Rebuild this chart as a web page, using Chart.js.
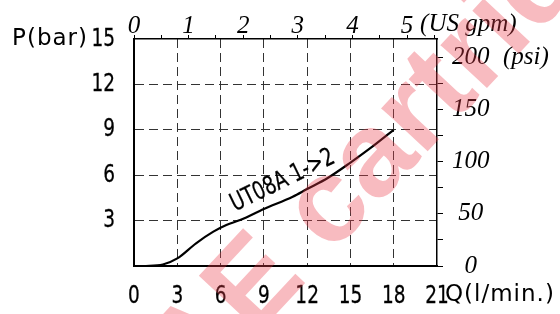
<!DOCTYPE html>
<html>
<head>
<meta charset="utf-8">
<script src="https://cdn.jsdelivr.net/npm/chart.js@4.4.0/dist/chart.umd.min.js"></script>
<style>
html, body { margin: 0; padding: 0; background: #fff; }
</style>
</head>
<body>
<canvas id="myChart" width="560" height="314"></canvas>
<script>
// flow in l/min, pressure drop in bar
var flowLpm = [0.65, 2, 3, 4.3, 5.5, 6.4, 7.4, 9, 11, 12, 13.4, 15, 16.4, 18];
var pressureBar = [0, 0.1, 0.5, 1.5, 2.27, 2.71, 3.05, 3.77, 4.58, 5.09, 5.8, 6.83, 7.8, 9];

var curveLabel = 'UT08A 1->2';
var labelAt = [7.0, 3.6];   // data coords where the label baseline starts

var flowMax = 21, flowStep = 3;
var barMax = 15, barStep = 3;
var LPM_PER_GPM = 3.785411784;
var PSI_PER_BAR = 14.5038;

var gothic = '"DejaVu Sans", sans-serif';
var serif = '"Liberation Serif", "DejaVu Serif", serif';

var ctx = document.getElementById('myChart').getContext('2d');

var pts = flowLpm.map(function(q, i){ return {x: q, y: pressureBar[i]}; });

var innerGrid = function(max){
    return function(c){
        var v = c.tick.value;
        return (v === 0 || v === max) ? 'rgba(0,0,0,0)' : '#333';
    };
};

// squeezed text, the drawing uses a narrow gothic face
var narrowText = function(c, text, x, y){
    c.save();
    c.translate(x, y);
    c.scale(0.74, 1);
    c.fillText(text, 0, 0);
    c.strokeText(text, 0, 0);
    c.restore();
};

var extras = {
    id: 'extras',
    afterDatasetsDraw: function(chart){
        var c = chart.ctx;
        var area = chart.chartArea;
        var xs = chart.scales.x, ys = chart.scales.y, xt = chart.scales.x2, yr = chart.scales.y2;
        c.save();
        c.fillStyle = '#000';
        c.strokeStyle = '#000';
        c.lineWidth = 0.3;

        // bar / l/min tick labels
        c.font = '25px ' + gothic;
        c.textBaseline = 'middle';
        c.textAlign = 'right';
        ys.ticks.forEach(function(t){
            if (t.value === 0) return;
            narrowText(c, String(t.value), area.left - 19, ys.getPixelForValue(t.value));
        });
        c.textAlign = 'center';
        xs.ticks.forEach(function(t){
            narrowText(c, String(t.value), xs.getPixelForValue(t.value), area.bottom + 30);
        });

        // axis names
        c.font = '23px ' + gothic;
        c.letterSpacing = '1px';
        c.textAlign = 'right';
        c.fillText('P(bar)', area.left - 46, ys.getPixelForValue(barMax));
        c.textAlign = 'left';
        c.fillText('Q(l/min.)', area.right + 8, area.bottom + 29);
        c.letterSpacing = '0px';
        c.font = 'italic 25px ' + serif;
        c.fillText('(US gpm)', xt.getPixelForValue(5) + 13, 24);
        c.fillText('(psi)', area.right + 66, yr.getPixelForValue(200));

        // curve label
        c.translate(xs.getPixelForValue(labelAt[0]), ys.getPixelForValue(labelAt[1]));
        c.rotate(-26 * Math.PI / 180);
        c.font = '25px ' + gothic;
        c.textAlign = 'left';
        c.textBaseline = 'alphabetic';
        narrowText(c, curveLabel, 0, 0);
        c.restore();
    },
    afterDraw: function(chart){
        // watermark over everything
        var c = chart.ctx;
        c.save();
        c.translate(140, 460);
        c.rotate(-47 * Math.PI / 180);
        c.font = 'bold 120px "Liberation Sans", Arial, sans-serif';
        c.fillStyle = 'rgba(235, 60, 75, 0.35)';
        c.textBaseline = 'alphabetic';
        c.fillText('SAE cartridge', 0, 0);
        c.restore();
    }
};

var myChart = new Chart(ctx, {
    type: 'scatter',
    data: {
        datasets: [{
            data: pts,
            showLine: true,
            borderColor: '#000',
            borderWidth: 2.2,
            pointRadius: 0,
            cubicInterpolationMode: 'monotone'
        }]
    },
    options: {
        responsive: false,
        animation: false,
        layout: { padding: 0 },
        plugins: { legend: { display: false }, tooltip: { enabled: false } },
        scales: {
            x: {
                type: 'linear', position: 'bottom',
                min: 0, max: flowMax,
                afterFit: function(s){ s.height = 48; },
                ticks: { stepSize: flowStep, display: false },
                grid: { color: innerGrid(flowMax), lineWidth: 1, drawTicks: false },
                border: { color: '#000', width: 2, dash: [9, 5] }
            },
            y: {
                type: 'linear', position: 'left',
                min: 0, max: barMax,
                afterFit: function(s){ s.width = 134; },
                ticks: { stepSize: barStep, display: false },
                grid: { color: innerGrid(barMax), lineWidth: 1, drawTicks: false },
                border: { color: '#000', width: 2, dash: [9, 5] }
            },
            x2: {
                type: 'linear', position: 'top',
                min: 0, max: flowMax / LPM_PER_GPM,
                afterFit: function(s){ s.height = 39; },
                ticks: { stepSize: 0.5, includeBounds: false, autoSkip: false, padding: 0, color: '#000',
                    maxRotation: 0,
                    font: { family: serif, size: 25, style: 'italic', lineHeight: 0.7 },
                    callback: function(v){ return Number.isInteger(v) ? String(v) : ''; } },
                grid: { drawOnChartArea: false, color: '#000', tickLength: 4, lineWidth: 1 },
                border: { color: '#000', width: 1.5 }
            },
            y2: {
                type: 'linear', position: 'right',
                min: 0, max: barMax * PSI_PER_BAR,
                afterFit: function(s){ s.width = 123; },
                ticks: { stepSize: 25, includeBounds: false, autoSkip: false, padding: 9, color: '#000',
                    crossAlign: 'center',
                    font: { family: serif, size: 25, style: 'italic' },
                    callback: function(v){ return v % 50 === 0 ? String(v) : ''; } },
                grid: { drawOnChartArea: false, color: '#000', tickLength: 6, lineWidth: 1 },
                border: { color: '#000', width: 1.5 }
            }
        }
    },
    plugins: [extras]
});
</script>
</body>
</html>
